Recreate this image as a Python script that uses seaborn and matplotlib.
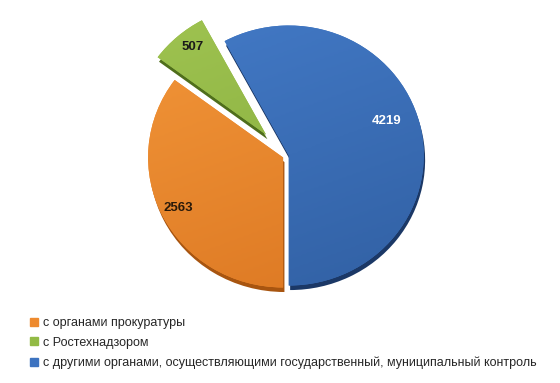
import matplotlib
matplotlib.use("Agg")
import matplotlib.pyplot as plt
import seaborn as sns
import numpy as np
from matplotlib.lines import Line2D
from matplotlib.colors import LinearSegmentedColormap

categories = [
    "с органами прокуратуры",
    "с Ростехнадзором",
    "с другими органами, осуществляющими государственный, муниципальный контроль",
]
values = [2563, 507, 4219]
value_labels = ["2563", "507", "4219"]

colors = ["#EE8A2E", "#92BA45", "#3D73C0"]
light = ["#F59A3C", "#A2C653", "#457DCB"]
deep = ["#D9731F", "#7EA537", "#2F5D9F"]
dark = ["#A85510", "#4F6E1C", "#1B3866"]
explode = [0.02, 0.22, 0.025]
label_dist = [0.87, 0.87, 0.77]
label_shift = [0.0, -2.0, 6.0]
label_colors = ["#2a1a0a", "#1a1a1a", "white"]

sns.set_theme(style="white")
plt.rcParams["font.family"] = ["Liberation Sans", "DejaVu Sans"]

fig = plt.figure(figsize=(5.6, 3.83), dpi=100)
ax = fig.add_axes([110 / 560, 57.7 / 383, 351 / 560, 338 / 383])

shadow, _ = ax.pie(values, explode=explode, colors=dark, startangle=270,
                   counterclock=False, center=(0.01, -0.035),
                   wedgeprops=dict(linewidth=0))
for w in shadow:
    w.set_zorder(0.5)

wedges, _ = ax.pie(values, explode=explode, colors=colors, startangle=270,
                   counterclock=False, wedgeprops=dict(linewidth=0))

ax.set_aspect("auto")

yy, xx = np.mgrid[1.3:-1.3:200j, -1.3:1.3:200j]
grad = (yy * 0.8 - xx * 0.3)
grad = (grad.max() - grad) / (grad.max() - grad.min())
for w, lc, dc in zip(wedges, light, deep):
    cmap = LinearSegmentedColormap.from_list("g", [lc, dc])
    im = ax.imshow(grad, extent=[-1.3, 1.3, -1.3, 1.3], cmap=cmap,
                   aspect="auto", zorder=1.1, interpolation="bilinear")
    im.set_clip_path(w)

ax.set_xlim(-1.3, 1.3)
ax.set_ylim(-1.3, 1.3)
ax.axis("off")

for w, txt, d, s, tc in zip(wedges, value_labels, label_dist, label_shift,
                            label_colors):
    mid = np.deg2rad((w.theta1 + w.theta2) / 2 + s)
    cx, cy = w.center
    ax.text(cx + d * w.r * np.cos(mid), cy + d * w.r * np.sin(mid), txt,
            ha="center", va="center", fontsize=9.5, fontweight="bold",
            color=tc, zorder=3)

handles = [Line2D([], [], marker="s", linestyle="", markersize=5.2, color=c)
           for c in colors]
fig.legend(handles, categories, loc="upper left",
           bbox_to_anchor=(30.5 / 560, 1 - 317 / 383), frameon=False,
           fontsize=9, handlelength=0.52, handletextpad=0.5,
           labelspacing=0.62, borderpad=0, borderaxespad=0)

fig.savefig("out.png", dpi=100, facecolor="white")
